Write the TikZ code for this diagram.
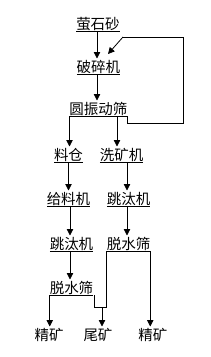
\documentclass[tikz,border=0pt]{standalone}
\usepackage{fontspec}
\newfontfamily\cjk{Noto Sans CJK SC}
\usetikzlibrary{arrows.meta}
\begin{document}
\begin{tikzpicture}[x=1pt,y=-1pt,
  lbl/.style={font=\cjk\fontsize{14.5}{14.5}\selectfont,inner sep=0pt,outer sep=0pt,text height=11.5pt,text depth=2pt,anchor=south},
  ln/.style={line width=0.8pt},
  arr/.style={line width=0.8pt,-{Triangle[length=6.5pt,width=6.5pt]},shorten >=2pt}]
\useasboundingbox (0,0) rectangle (211,357);
\node[lbl] (n1) at (98,31) {萤石砂};
\node[lbl] (n2) at (98.5,74) {破碎机};
\node[lbl] (n3) at (98.5,116) {圆振动筛};
\node[lbl] (n4) at (68.5,162) {料仓};
\node[lbl] (n5) at (121.5,162) {洗矿机};
\node[lbl] (n6) at (68.5,206) {给料机};
\node[lbl] (n7) at (128.5,206) {跳汰机};
\node[lbl] (n8) at (71.5,251) {跳汰机};
\node[lbl] (n9) at (128.5,251) {脱水筛};
\node[lbl] (n10) at (71.5,295) {脱水筛};
\node[lbl] (n11) at (49,342) {精矿};
\node[lbl] (n12) at (98,342) {尾矿};
\node[lbl] (n13) at (153,342) {精矿};
% underlines
\foreach \n in {n1,n2,n3,n4,n5,n6,n7,n8,n9,n10}
  \draw[ln] (\n.south west) -- (\n.south east);
% coordinates
\coordinate (c1) at (97,31);
\coordinate (c2) at (97,74);
\coordinate (c3) at (117,116);
\coordinate (c4) at (127,162);
\coordinate (c5) at (70,206);
\coordinate (c6) at (127,206);
\coordinate (c7) at (70,251);
\coordinate (fb1) at (183,123);
\coordinate (fb2) at (123,37);
\coordinate (fbtip) at (108,54);
\coordinate (j1) at (94,307);
\coordinate (j2) at (102,307);
% connectors
\draw[arr] (c1) -- (c1 |- n2.north);
\draw[ln] (n3.south east) |- (fb1) |- (fb2);
\draw[arr,shorten >=0pt] (fb2) -- (fbtip);
\draw[arr] (c2) -- (c2 |- n3.north);
\draw[arr] (n3.south west) -- (n3.south west |- n4.north);
\draw[arr] (c3) -- (c3 |- n5.north);
\draw[arr] (n4.south) -- (n4.south |- n6.north);
\draw[arr] (c4) -- (c4 |- n7.north);
\draw[arr] (c5) -- (c5 |- n8.north);
\draw[arr] (c6) -- (c6 |- n9.north);
\draw[arr] (c7) -- (c7 |- n10.north);
\draw[arr] (n10.south west) -- (n10.south west |- n11.north);
\draw[ln] (n10.south east -| j1) -- (j1) -- (j1 -| n9.south west) -- (n9.south west);
\draw[arr] (j2) -- (j2 |- n12.north);
\draw[arr] (n9.south east) -- (n9.south east |- n13.north);
\end{tikzpicture}
\end{document}
